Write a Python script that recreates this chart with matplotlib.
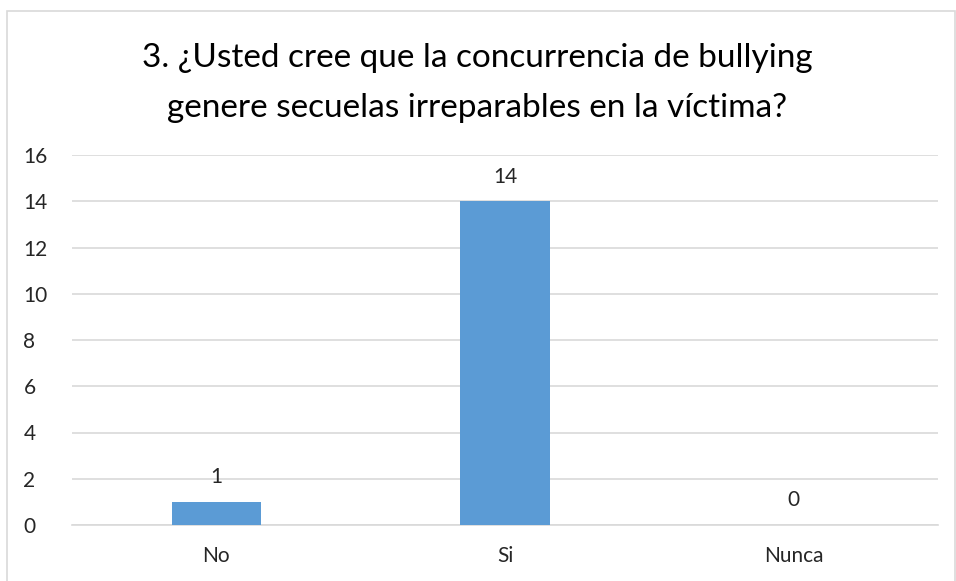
import matplotlib
matplotlib.use("Agg")
import matplotlib.pyplot as plt
from matplotlib.patches import Rectangle

categories = ["No", "Si", "Nunca"]
values = [1, 14, 0]
title_lines = ["3. ¿Usted cree que la concurrencia de bullying",
               "genere secuelas irreparables en la víctima?"]

plt.rcParams["font.family"] = ["Lato", "DejaVu Sans"]

W, H = 956, 581
fig = plt.figure(figsize=(W / 100, H / 100), dpi=100)
ax = fig.add_axes([72 / W, 1 - 525 / H, (938 - 72) / W, (525 - 155) / H])

x = range(len(categories))
bars = ax.bar(x, values, width=0.31, color="#5B9BD5", zorder=3)
for xi, v in zip(x, values):
    ax.annotate(str(v), (xi, v), xytext=(0, 13.5), textcoords="offset points",
                ha="center", va="baseline", fontsize=15, color="#262626")

ax.set_xlim(-0.5, 2.5)
ax.set_ylim(0, 16)
ax.set_yticks(range(0, 17, 2))
ax.set_xticks(list(x))
ax.set_xticklabels(categories)
ax.grid(axis="y", color="#D9D9D9", linewidth=1.2, zorder=0)
for s in ["top", "right", "left"]:
    ax.spines[s].set_visible(False)
ax.spines["bottom"].set_color("#D9D9D9")
ax.spines["bottom"].set_linewidth(1.2)
ax.tick_params(length=0, labelsize=15, colors="#262626", pad=15)
ax.tick_params(axis="y", pad=35)
for lbl in ax.get_yticklabels():
    lbl.set_horizontalalignment("left")

for line, base in zip(title_lines, [67, 117]):
    fig.text(477 / W, 1 - base / H, line, ha="center", va="baseline",
             fontsize=24, color="#000000")

# chart border
fig.patches.append(Rectangle((7 / W, -0.05), (955 - 7) / W, 1.05 - 11 / H,
                             transform=fig.transFigure, fill=False,
                             edgecolor="#D9D9D9", linewidth=1.2))

fig.savefig("out.png", dpi=100)
